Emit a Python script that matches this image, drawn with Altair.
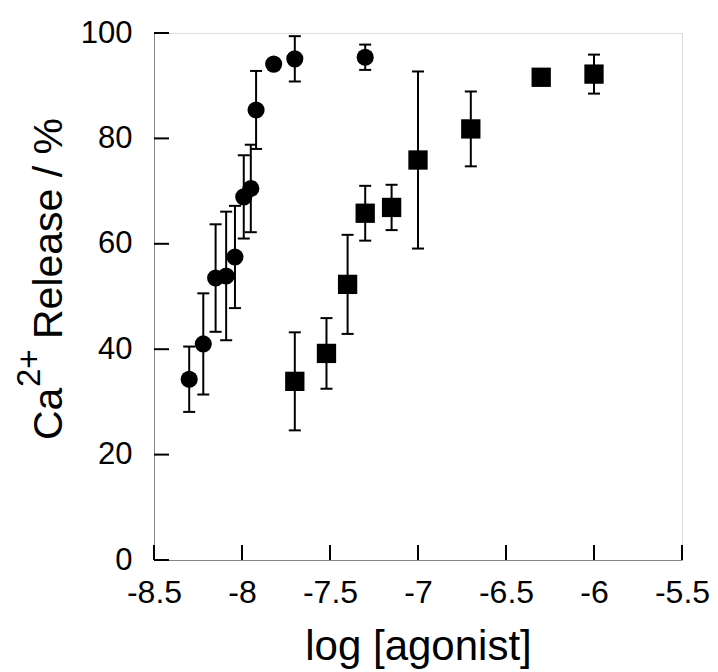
import altair as alt
import pandas as pd

# ---- data ----
circle_x = [-8.30, -8.22, -8.15, -8.09, -8.04, -7.99, -7.95, -7.92, -7.82, -7.70, -7.30]
circle_y = [34.3, 41.0, 53.5, 53.9, 57.5, 68.9, 70.5, 85.4, 94.1, 95.1, 95.4]
circle_err = [6.2, 9.6, 10.2, 12.2, 9.7, 7.9, 8.3, 7.4, 0.0, 4.3, 2.4]

square_x = [-7.70, -7.52, -7.40, -7.30, -7.15, -7.00, -6.70, -6.30, -6.00]
square_y = [33.9, 39.2, 52.3, 65.8, 66.9, 75.9, 81.8, 91.6, 92.2]
square_err = [9.3, 6.7, 9.4, 5.2, 4.3, 16.8, 7.1, 0.0, 3.7]

x_ticks = [-8.5, -8.0, -7.5, -7.0, -6.5, -6.0, -5.5]
y_ticks = [0, 20, 40, 60, 80, 100]

series_names = ["circles", "squares"]

X_TITLE = "log [agonist]"
Y_TITLE_PARTS = ["Ca", "2+", "Release / %"]

rows = []
for xv, yv, ev in zip(circle_x, circle_y, circle_err):
    rows.append({"series": "circles", "x": xv, "y": yv, "lo": yv - ev, "hi": yv + ev})
for xv, yv, ev in zip(square_x, square_y, square_err):
    rows.append({"series": "squares", "x": xv, "y": yv, "lo": yv - ev, "hi": yv + ev})
df = pd.DataFrame(rows)
xt = pd.DataFrame({"x": x_ticks})
yt = pd.DataFrame({"y": y_ticks})
one = pd.DataFrame({"k": [0]})

W, H = 528, 527
FONT = "Liberation Sans"

x_scale = alt.Scale(domain=[-8.5, -5.5], nice=False, zero=False)
y_scale = alt.Scale(domain=[0, 100], nice=False, zero=False)

x_axis = alt.Axis(values=x_ticks, labelExpr="'' + datum.value", ticks=False, grid=False,
                  labelFlush=False, labelOverlap=False,
                  labelPadding=17, labelFontSize=32, titleFontSize=42, titleFontWeight="normal",
                  titleX=264, titleY=99, titleBaseline="alphabetic", titleAlign="center")
y_axis = alt.Axis(values=y_ticks, labelExpr="'' + datum.value", ticks=False, grid=False,
                  labelFlush=False, labelOverlap=False,
                  labelPadding=22, labelFontSize=31)


def X(field):
    return alt.X(field, type="quantitative", scale=x_scale, axis=x_axis, title=X_TITLE)


def Y(field):
    return alt.Y(field, type="quantitative", scale=y_scale, axis=y_axis, title=None)


base = alt.Chart(df)

err_rule = base.mark_rule(color="black", strokeWidth=2).encode(
    x=X("x"), y=Y("lo"), y2="hi")
cap_lo = base.mark_tick(color="black", orient="horizontal", size=12, thickness=2, opacity=1).encode(
    x=X("x"), y=Y("lo"))
cap_hi = base.mark_tick(color="black", orient="horizontal", size=12, thickness=2, opacity=1).encode(
    x=X("x"), y=Y("hi"))
points = base.mark_point(filled=True, opacity=1, color="black", strokeWidth=0).encode(
    x=X("x"), y=Y("y"),
    shape=alt.Shape("series:N", scale=alt.Scale(domain=series_names, range=["circle", "square"]), legend=None),
    size=alt.Size("series:N", scale=alt.Scale(domain=series_names, range=[293, 373]), legend=None),
)

x_tick_marks = alt.Chart(xt).mark_rule(color="black", strokeWidth=2).encode(
    x=X("x"), y=alt.value(H), y2=alt.value(H - 15))
y_tick_marks = alt.Chart(yt).mark_rule(color="black", strokeWidth=2).encode(
    y=Y("y"), x=alt.value(0), x2=alt.value(15))

# y-axis title as rotated real text, with a raised "2+"
t_ca = alt.Chart(one).mark_text(angle=270, align="left", baseline="alphabetic", font=FONT,
                                fontSize=41, color="black").encode(
    x=alt.value(-92), y=alt.value(407), text=alt.value(Y_TITLE_PARTS[0]))
t_sup = alt.Chart(one).mark_text(angle=270, align="left", baseline="alphabetic", font=FONT,
                                 fontSize=33, color="black").encode(
    x=alt.value(-114), y=alt.value(354), text=alt.value(Y_TITLE_PARTS[1]))
t_rest = alt.Chart(one).mark_text(angle=270, align="left", baseline="alphabetic", font=FONT,
                                  fontSize=41, color="black").encode(
    x=alt.value(-92), y=alt.value(306), text=alt.value(Y_TITLE_PARTS[2]))

chart = alt.layer(x_tick_marks, y_tick_marks, err_rule, cap_lo, cap_hi, points,
                  t_ca, t_sup, t_rest).properties(
    width=W, height=H,
    autosize=alt.AutoSizeParams(type="none"),
    padding={"left": 146, "top": 25, "right": 28, "bottom": 110},
).configure_view(stroke=None).configure_axis(
    domainColor="black", domainWidth=3, labelColor="black", titleColor="black",
    labelFont=FONT, titleFont=FONT, titleFontWeight="normal",
).configure(background="white")

chart.save("out.html", embed_options={"renderer": "svg", "actions": False})
